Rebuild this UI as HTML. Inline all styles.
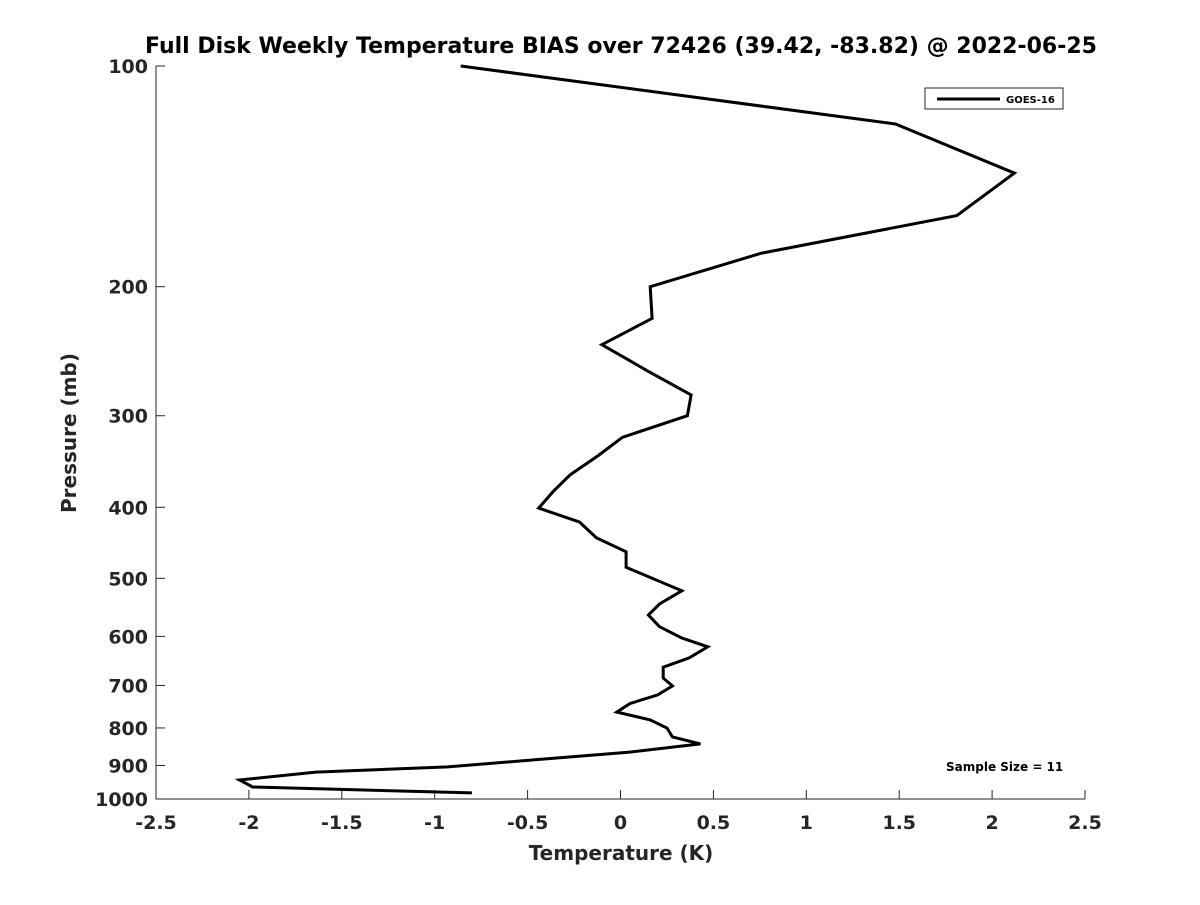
<!DOCTYPE html>
<html><head><meta charset="utf-8"><style>
body{margin:0;background:#fff}
svg text{font-family:"DejaVu Sans","Liberation Sans",sans-serif;font-weight:bold;fill:#262626}
</style></head><body>
<svg id="chart" width="1200" height="900" xmlns="http://www.w3.org/2000/svg">
<rect width="1200" height="900" fill="#fff"/>
<text x="621" y="53" font-size="22" text-anchor="middle" style="fill:#000">Full Disk Weekly Temperature BIAS over 72426 (39.42, -83.82) @ 2022-06-25</text>
<g id="axes"></g>
<text x="621" y="860" font-size="20" text-anchor="middle">Temperature (K)</text>
<text transform="translate(76,433) rotate(-90)" font-size="20" text-anchor="middle">Pressure (mb)</text>
<g>
<rect x="925" y="88" width="138" height="21" fill="#fff" stroke="#262626" stroke-width="1"/>
<line x1="937" y1="99" x2="1000" y2="99" stroke="#000" stroke-width="3"/>
<text x="1006" y="103" font-size="10" style="fill:#000">GOES-16</text>
</g>
<text x="946" y="771" font-size="12" style="fill:#000">Sample Size = 11</text>
</svg>
<script>
const temps=[-0.86,1.48,2.12,1.81,0.76,0.16,0.17,-0.10,0.15,0.38,0.36,0.01,-0.12,-0.27,-0.36,-0.44,-0.22,-0.13,0.03,0.03,0.33,0.21,0.15,0.21,0.33,0.47,0.37,0.23,0.23,0.28,0.20,0.05,-0.02,0.16,0.25,0.28,0.43,0.05,-0.41,-0.93,-1.64,-2.05,-1.98,-0.80];
const pressures=[100,120,140,160,180,200,221,240,261,281,300,321,340,361,380,401,419,440,460,483,520,542,561,582,603,620,642,661,684,701,721,741,761,780,800,823,841,863,882,904,919,942,963,981];
const xTicks=[-2.5,-2,-1.5,-1,-0.5,0,0.5,1,1.5,2,2.5];
const yTicks=[100,200,300,400,500,600,700,800,900,1000];
const X0=156,X1=1085,Y0=66,Y1=799;
const xs=v=>X0+(v+2.5)/5*(X1-X0);
const ys=p=>Y0+Math.log10(p/100)*(Y1-Y0);
const NS='http://www.w3.org/2000/svg';
const svg=document.getElementById('chart');
const g=document.getElementById('axes');
function mk(t,a){const e=document.createElementNS(NS,t);for(const k in a)e.setAttribute(k,a[k]);return e;}
const ax=mk('path',{d:`M${X0},${Y0}V${Y1}H${X1}`,fill:'none',stroke:'#262626','stroke-width':1});


g.appendChild(ax);
xTicks.forEach(v=>{const x=xs(v);
const t=mk('line',{x1:x,y1:Y1,x2:x,y2:Y1-9,stroke:'#262626'});


g.appendChild(t);
const l=mk('text',{x:x,y:Y1+30,'font-size':19,'text-anchor':'middle'});l.textContent=String(v);


g.appendChild(l);});
yTicks.forEach(p=>{const y=ys(p);
const t=mk('line',{x1:X0,y1:y,x2:X0+9,y2:y,stroke:'#262626'});


g.appendChild(t);
const l=mk('text',{x:X0-8,y:y+7,'font-size':19,'text-anchor':'end'});l.textContent=String(p);


g.appendChild(l);});
const d=temps.map((v,i)=>(i?'L':'M')+xs(v).toFixed(1)+','+ys(pressures[i]).toFixed(1)).join('');
const line=mk('path',{d:d,fill:'none',stroke:'#000','stroke-width':3,'stroke-linejoin':'miter'});


svg.appendChild(line);
</script>
</body></html>
